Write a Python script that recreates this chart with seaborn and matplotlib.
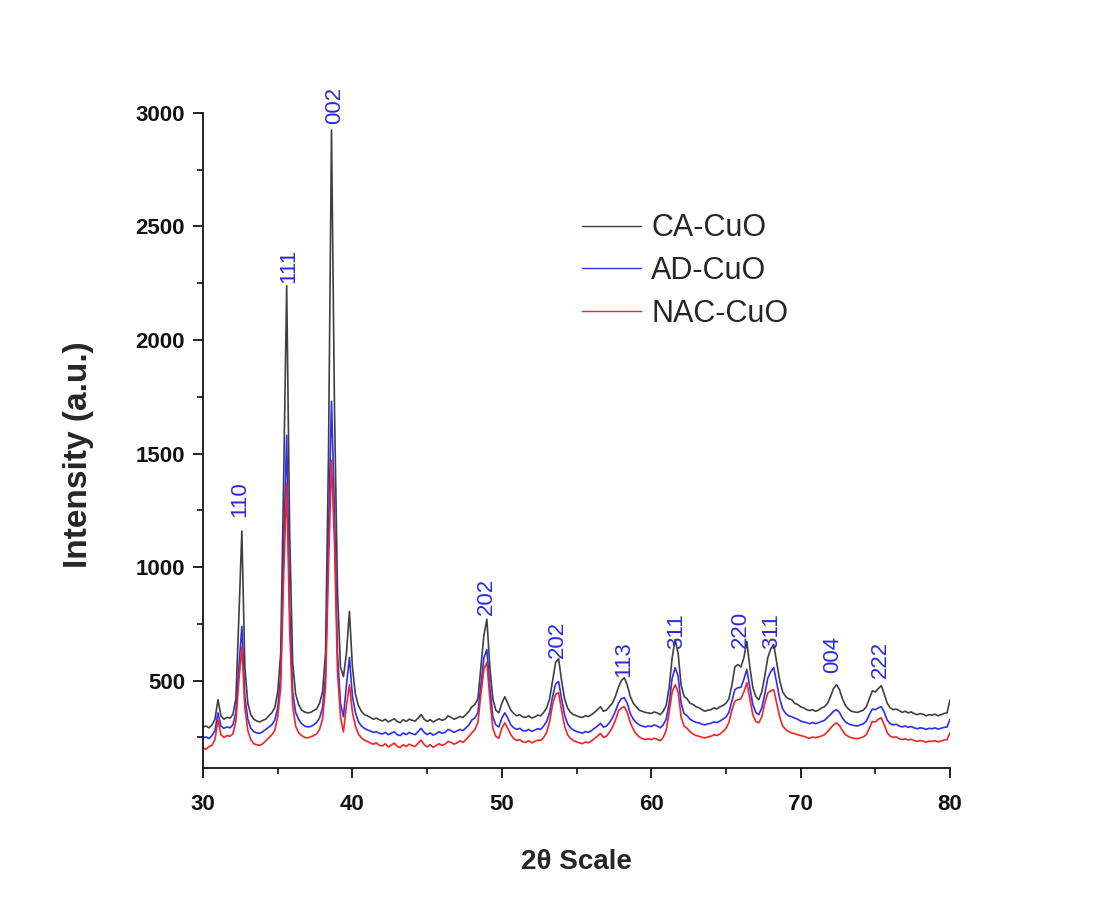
import numpy as np
import pandas as pd
import matplotlib
matplotlib.use("Agg")
import matplotlib.pyplot as plt
import seaborn as sns
from matplotlib.ticker import MultipleLocator

# ---- data ----
two_theta = np.round(np.arange(30.0, 80.0001, 0.2), 1)

ca_cuo = [
    296, 300, 292, 305, 330, 416, 345, 330, 338, 335,      # 30.0-31.8
    350, 420, 780, 1159, 560, 400, 350, 330, 322, 318,     # 32.0-33.8
    325, 330, 345, 358, 380, 450, 620, 1400, 2239, 1150,   # 34.0-35.8
    580, 440, 395, 370, 362, 358, 360, 368, 375, 400,      # 36.0-37.8
    450, 620, 1500, 2925, 1700, 900, 560, 518, 620, 805,   # 38.0-39.8
    560, 440, 390, 365, 350, 345, 338, 330, 335, 328,      # 40.0-41.8
    322, 330, 318, 325, 332, 320, 315, 328, 320, 330,      # 42.0-43.8
    325, 322, 335, 350, 330, 320, 328, 318, 325, 332,      # 44.0-45.8
    325, 330, 345, 338, 330, 335, 342, 338, 350, 365,      # 46.0-47.8
    385, 395, 420, 560, 700, 770, 560, 420, 370, 358,      # 48.0-49.8
    400, 429, 400, 370, 355, 345, 350, 340, 338, 345,      # 50.0-51.8
    335, 340, 348, 345, 360, 380, 420, 500, 580, 597,      # 52.0-53.8
    500, 420, 380, 360, 350, 345, 340, 338, 345, 342,      # 54.0-55.8
    350, 360, 372, 385, 365, 370, 385, 400, 430, 470,      # 56.0-57.8
    500, 513, 480, 430, 400, 385, 370, 365, 360, 358,      # 58.0-59.8
    355, 362, 358, 350, 365, 390, 470, 600, 681, 620,      # 60.0-61.8
    480, 430, 420, 400, 395, 385, 380, 372, 365, 370,      # 62.0-63.8
    372, 380, 375, 385, 390, 400, 420, 480, 560, 571,      # 64.0-65.8
    560, 600, 673, 560, 470, 430, 416, 450, 520, 600,      # 66.0-67.8
    640, 659, 580, 500, 450, 430, 420, 416, 400, 395,      # 68.0-69.8
    385, 380, 372, 368, 372, 365, 370, 380, 385, 400,      # 70.0-71.8
    430, 465, 482, 460, 420, 390, 375, 365, 362, 360,      # 72.0-73.8
    365, 370, 385, 420, 455, 450, 465, 478, 440, 400,      # 74.0-75.8
    380, 372, 375, 368, 360, 365, 358, 362, 355, 350,      # 76.0-77.8
    355, 352, 345, 350, 348, 352, 345, 350, 355, 358,      # 78.0-79.8
    416,                                                   # 80.0
]

ad_cuo = [
    248, 252, 245, 258, 280, 358, 300, 290, 296, 292,
    305, 360, 560, 739, 430, 330, 290, 275, 270, 268,
    275, 285, 295, 305, 325, 380, 520, 1100, 1580, 820,
    450, 360, 330, 310, 300, 296, 298, 305, 315, 335,
    380, 520, 1150, 1730, 1250, 620, 400, 341, 480, 602,
    430, 360, 320, 300, 290, 283, 278, 272, 275, 268,
    265, 272, 262, 268, 275, 262, 258, 270, 262, 272,
    266, 262, 276, 290, 272, 262, 270, 260, 266, 275,
    268, 272, 285, 280, 272, 278, 285, 280, 292, 305,
    327, 335, 360, 480, 600, 637, 470, 340, 305, 296,
    335, 358, 335, 305, 292, 285, 290, 280, 278, 285,
    276, 282, 288, 285, 300, 320, 360, 430, 485, 496,
    420, 350, 310, 292, 282, 276, 272, 268, 276, 272,
    280, 290, 300, 312, 295, 300, 315, 335, 365, 400,
    420, 425, 400, 355, 330, 315, 305, 300, 296, 300,
    298, 305, 300, 292, 305, 330, 400, 510, 557, 520,
    400, 355, 345, 330, 322, 316, 314, 308, 305, 310,
    312, 318, 315, 322, 330, 340, 360, 410, 460, 469,
    470, 505, 549, 470, 395, 360, 350, 380, 440, 510,
    540, 557, 490, 420, 375, 355, 345, 341, 335, 330,
    322, 318, 315, 310, 316, 310, 315, 320, 325, 338,
    350, 365, 372, 360, 335, 318, 310, 305, 302, 300,
    305, 310, 322, 350, 375, 372, 380, 385, 360, 325,
    310, 305, 308, 300, 296, 300, 294, 298, 292, 288,
    292, 290, 285, 290, 288, 292, 286, 290, 294, 296,
    330,
]

nac_cuo = [
    203, 198, 210, 215, 240, 327, 262, 250, 258, 255,
    265, 320, 500, 650, 380, 280, 240, 222, 217, 215,
    222, 235, 248, 261, 280, 340, 470, 960, 1370, 720,
    390, 300, 270, 258, 250, 248, 252, 258, 265, 285,
    330, 470, 1000, 1470, 1100, 540, 340, 274, 390, 482,
    360, 300, 265, 248, 238, 232, 225, 220, 226, 215,
    212, 222, 208, 216, 225, 210, 205, 218, 210, 220,
    214, 210, 225, 238, 218, 208, 218, 206, 214, 222,
    215, 220, 232, 228, 220, 226, 235, 228, 240, 255,
    270, 285, 315, 440, 550, 580, 420, 290, 255, 246,
    290, 314, 290, 262, 245, 236, 240, 230, 228, 236,
    226, 232, 238, 236, 250, 272, 320, 395, 440, 447,
    370, 300, 262, 245, 236, 230, 226, 222, 230, 226,
    234, 245, 255, 268, 250, 255, 272, 295, 325, 365,
    380, 385, 360, 315, 285, 265, 252, 245, 240, 244,
    240, 246, 242, 235, 250, 280, 360, 450, 482, 450,
    340, 300, 290, 275, 265, 258, 255, 250, 248, 252,
    255, 262, 258, 265, 275, 290, 315, 370, 410, 416,
    420, 450, 491, 420, 350, 320, 314, 340, 400, 445,
    455, 460, 400, 340, 300, 285, 275, 270, 266, 262,
    258, 255, 250, 246, 252, 248, 252, 256, 262, 275,
    290, 305, 314, 302, 280, 262, 254, 248, 246, 244,
    248, 252, 262, 290, 320, 318, 330, 336, 305, 270,
    255, 250, 252, 244, 240, 244, 238, 242, 236, 232,
    236, 234, 228, 234, 232, 236, 230, 234, 238, 240,
    270,
]

sample_names = ["CA-CuO", "AD-CuO", "NAC-CuO"]
peak_labels = ["110", "111", "002", "202", "202", "113", "311", "220", "311", "004", "222"]
peak_label_x = [32.48, 35.76, 38.84, 48.94, 53.69, 58.18, 61.73, 66.0, 68.09, 72.17, 75.31]
peak_label_y = [1301, 2327, 3035, 872, 681, 593, 717, 726, 717, 615, 593]

x_ticks = [30, 40, 50, 60, 70, 80]
y_ticks = [500, 1000, 1500, 2000, 2500, 3000]

# ---- build long-form table ----
frames = []
for name, vals in zip(sample_names, [ca_cuo, ad_cuo, nac_cuo]):
    assert len(vals) == len(two_theta), (name, len(vals))
    frames.append(pd.DataFrame({"two_theta": two_theta, "intensity": vals, "sample": name}))
df = pd.concat(frames, ignore_index=True)

sns.set_style("ticks")
plt.rcParams["font.family"] = ["Liberation Sans", "DejaVu Sans"]

fig = plt.figure(figsize=(10.95, 9.14), dpi=100)
ax = fig.add_axes([0.1854, 0.1597, 0.6822, 0.7167])

palette = {"CA-CuO": "#404040", "AD-CuO": "#2e2ef5", "NAC-CuO": "#f52424"}
sns.lineplot(data=df, x="two_theta", y="intensity", hue="sample",
             hue_order=sample_names, palette=palette, estimator=None,
             sort=False, linewidth=1.2, ax=ax)

ax.set_xlim(30, 80)
ax.set_ylim(115, 3000)
ax.set_xticks(x_ticks)
ax.set_yticks(y_ticks)
ax.xaxis.set_minor_locator(MultipleLocator(5))
ax.yaxis.set_minor_locator(MultipleLocator(250))
sns.despine(ax=ax)
for sp in ["left", "bottom"]:
    ax.spines[sp].set_linewidth(1.3)
    ax.spines[sp].set_color("#111111")
ax.tick_params(which="major", direction="out", length=7, width=1.3, colors="#111111",
               labelsize=16)
ax.tick_params(axis="x", which="major", pad=12)
ax.tick_params(axis="y", which="major", pad=6)
ax.tick_params(which="minor", direction="out", length=4, width=1.2, colors="#111111")
for lab in ax.get_xticklabels() + ax.get_yticklabels():
    lab.set_fontweight("bold")

ax.set_xlabel("2\u03b8 Scale", fontsize=20, fontweight="bold", labelpad=24)
ax.set_ylabel("Intensity (a.u.)", fontsize=24, fontweight="bold")
ax.yaxis.set_label_coords(-0.146, 0.479)

for t, xv, yv in zip(peak_labels, peak_label_x, peak_label_y):
    ax.text(xv, yv, t, rotation=90, ha="center", va="center", color="#2a2ae6",
            fontsize=16, clip_on=False)

handles, labels = ax.get_legend_handles_labels()
leg = ax.legend(handles, labels, loc="upper left", bbox_to_anchor=(0.507, 0.847),
                frameon=False, fontsize=22, handlelength=1.95, handletextpad=0.33,
                labelspacing=0.42, borderpad=0, borderaxespad=0)
for h in leg.get_lines():
    h.set_linewidth(1.0)

fig.savefig("out.png", dpi=100, facecolor="white")
